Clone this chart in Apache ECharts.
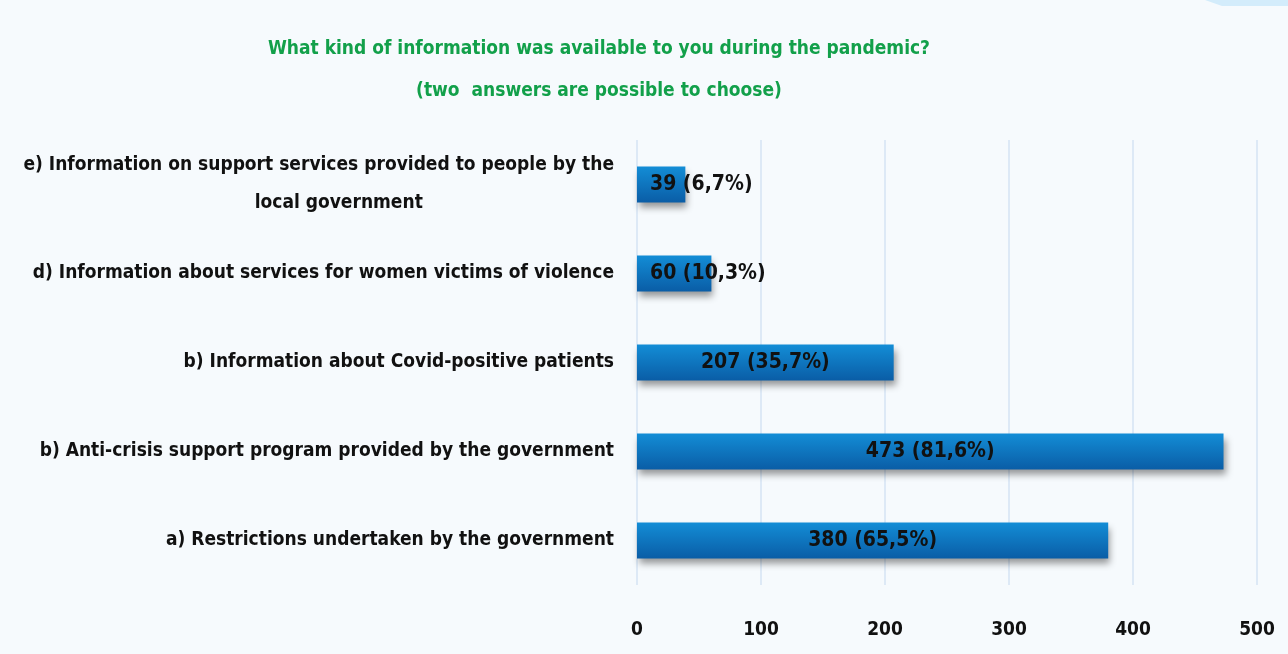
<!DOCTYPE html>
<html>
<head>
<meta charset="utf-8">
<script src="https://cdn.jsdelivr.net/npm/echarts@6/dist/echarts.min.js"></script>
<style>
  html, body { margin: 0; padding: 0; background: #f6fafd; }
  #chart { width: 1288px; height: 654px; }
</style>
</head>
<body>
<div id="chart"></div>
<script>
// Survey answers, listed bottom to top as drawn on the category axis
const categories = [
  'a) Restrictions undertaken by the government',
  'b) Anti-crisis support program provided by the government',
  'b) Information about Covid-positive patients',
  'd) Information about services for women victims of violence',
  'e) Information on support services provided to people by the\nlocal government'
];
const counts = [380, 473, 207, 60, 39];
const shares = ['65,5%', '81,6%', '35,7%', '10,3%', '6,7%'];
const xTicks = [0, 100, 200, 300, 400, 500];

const FONT = '"DejaVu Sans Condensed", "Liberation Sans Narrow", sans-serif';

const chart = echarts.init(document.getElementById('chart'), null, { renderer: 'canvas' });

const barColor = new echarts.graphic.LinearGradient(0, 0, 0, 1, [
  { offset: 0, color: '#138dd6' },
  { offset: 1, color: '#0a5da6' }
]);

const labelText = { fontFamily: FONT, fontWeight: 'bold', fontSize: 19, color: '#111', lineHeight: 38 };

chart.setOption({
  backgroundColor: '#f6fafd',
  animation: false,
  title: {
    text: 'What kind of information was available to you during the pandemic?\n(two  answers are possible to choose)',
    left: 594,
    top: 23,
    textAlign: 'center',
    textStyle: {
      fontFamily: FONT,
      fontWeight: 'bold',
      fontSize: 19,
      color: '#12a04a',
      lineHeight: 42
    }
  },
  graphic: [{
    type: 'polygon',
    shape: { points: [[1205, 0], [1288, 0], [1288, 6], [1222, 6]] },
    style: { fill: '#d3ecfb' }
  }],
  grid: { left: 637, right: 31, top: 140, bottom: 69, containLabel: false, outerBoundsMode: 'none' },
  xAxis: {
    type: 'value',
    min: 0,
    max: 500,
    interval: 100,
    axisLine: { show: false },
    axisTick: { show: false },
    splitLine: { show: true, lineStyle: { color: '#dde9f6', width: 2 } },
    axisLabel: {
      margin: 36,
      fontFamily: FONT,
      fontWeight: 'bold',
      fontSize: 19,
      color: '#111',
      formatter: v => xTicks.includes(v) ? String(v) : ''
    }
  },
  yAxis: {
    type: 'category',
    data: categories,
    axisLine: { show: false },
    axisTick: { show: false },
    axisLabel: {
      margin: 23,
      color: '#111',
      fontFamily: FONT,
      fontWeight: 'bold',
      fontSize: 19,
      lineHeight: 38,
      formatter: function (v) {
        const lines = v.split('\n');
        if (lines.length === 1) return '{s|' + v + '}';
        // wrapped label: first line full width, continuation centred a little to the right
        return '{s|' + lines[0] + '}\n{pad|}{c|' + lines[1] + '}';
      },
      rich: {
        s: labelText,
        pad: Object.assign({}, labelText, { width: 40, align: 'left' }),
        c: Object.assign({}, labelText, { align: 'center' })
      }
    }
  },
  series: [{
    type: 'bar',
    data: counts.map((c, i) => ({
      value: c,
      label: c < 100 ? { position: 'insideLeft', distance: 13 } : { position: 'inside' }
    })),
    barWidth: 36,
    itemStyle: {
      color: barColor,
      shadowColor: 'rgba(0,0,0,0.4)',
      shadowBlur: 7,
      shadowOffsetX: 2,
      shadowOffsetY: 5
    },
    label: {
      show: true,
      fontFamily: FONT,
      fontWeight: 'bold',
      fontSize: 21,
      color: '#111',
      formatter: p => counts[p.dataIndex] + ' (' + shares[p.dataIndex] + ')'
    }
  }]
});
</script>
</body>
</html>
